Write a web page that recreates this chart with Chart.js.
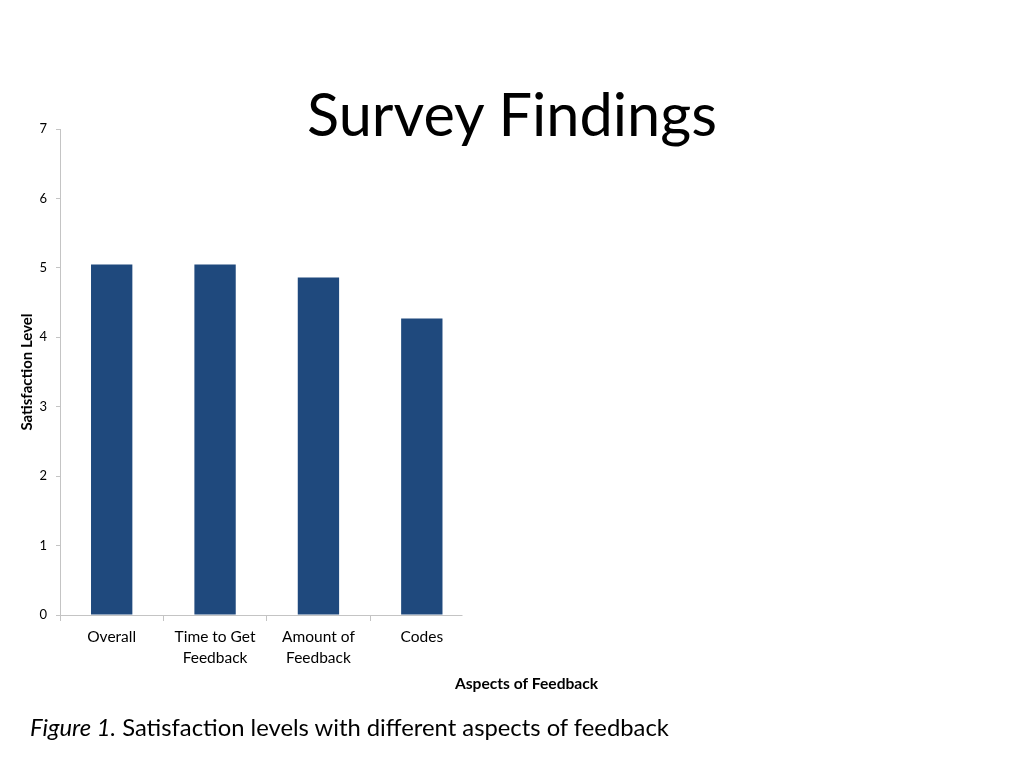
<!DOCTYPE html>
<html>
<head>
<meta charset="utf-8">
<script src="https://cdn.jsdelivr.net/npm/chart.js@4.4.0/dist/chart.umd.min.js"></script>
<style>
  html, body { margin: 0; padding: 0; background: #fff; }
  body { width: 1024px; height: 768px; position: relative; overflow: hidden; font-family: Lato, "Open Sans", sans-serif; }
  #title { position: absolute; left: 0; width: 1024px; top: 84px; text-align: center; font-size: 59.5px; color: #000; line-height: 1; white-space: nowrap; }
  #caption { position: absolute; left: 30px; top: 713px; font-size: 23.8px; color: #000; white-space: nowrap; }
  #wrap { position: absolute; left: 0; top: 0; width: 1024px; height: 768px; }
</style>
</head>
<body>
<div id="wrap"><canvas id="c"></canvas></div>
<div id="title">Survey Findings</div>
<div id="caption"><i>Figure 1.</i> Satisfaction levels with different aspects of feedback</div>
<script>
const categories = [['Overall'], ['Time to Get', 'Feedback'], ['Amount of', 'Feedback'], ['Codes']];
const satisfaction = [5.05, 5.05, 4.86, 4.27];
const yTicks = [0, 1, 2, 3, 4, 5, 6, 7];
const yTitle = 'Satisfaction Level';
const xTitle = 'Aspects of Feedback';

const font = 'Lato, "Open Sans", sans-serif';
const axisColor = '#c4c4c4';

const xDecorPlugin = {
  id: 'xDecor',
  afterDraw(chart) {
    const ctx = chart.ctx;
    const area = chart.chartArea;
    ctx.save();
    // category axis line (stops short of the last category edge, as in the reference)
    ctx.strokeStyle = axisColor;
    ctx.lineWidth = 1;
    ctx.beginPath();
    ctx.moveTo(area.left, Math.round(area.bottom) + 0.5);
    ctx.lineTo(area.right - 11, Math.round(area.bottom) + 0.5);
    ctx.stroke();
    // x axis title
    ctx.font = 'bold 15.6px ' + font;
    ctx.fillStyle = '#000';
    ctx.textAlign = 'center';
    ctx.textBaseline = 'middle';
    ctx.fillText(xTitle, 526.5, 684);
    ctx.restore();
  }
};

new Chart(document.getElementById('c'), {
  type: 'bar',
  data: {
    labels: categories,
    datasets: [{
      data: satisfaction,
      backgroundColor: '#1F497D',
      borderWidth: 0,
      barPercentage: 0.4,
      categoryPercentage: 1.0
    }]
  },
  options: {
    responsive: true,
    maintainAspectRatio: false,
    animation: false,
    devicePixelRatio: 1,
    layout: { padding: { left: 18, top: 129, right: 550.5, bottom: 83 } },
    plugins: { legend: { display: false }, tooltip: { enabled: false }, title: { display: false } },
    scales: {
      x: {
        grid: {
          display: true, drawOnChartArea: false, drawTicks: true, tickLength: 6, offset: true,
          color: (c) => (c.tick ? axisColor : 'rgba(0,0,0,0)')
        },
        border: { display: false },
        ticks: { color: '#000', font: { family: font, size: 15.5, lineHeight: 1.35 }, padding: 6, maxRotation: 0, autoSkip: false },
        afterFit(scale) { scale.height = 70; }
      },
      y: {
        min: 0, max: 7,
        afterBuildTicks(scale) { scale.ticks = yTicks.map(v => ({ value: v })); },
        grid: { display: true, drawOnChartArea: false, drawTicks: true, tickLength: 4, color: axisColor },
        border: { display: true, color: axisColor },
        ticks: { color: '#000', font: { family: font, size: 13 }, padding: 9 },
        title: { display: true, text: yTitle, color: '#000', font: { family: font, size: 15, weight: 'bold' }, padding: 0 },
        afterFit(scale) { scale.width = 42; }
      }
    }
  },
  plugins: [xDecorPlugin]
});
</script>
</body>
</html>
